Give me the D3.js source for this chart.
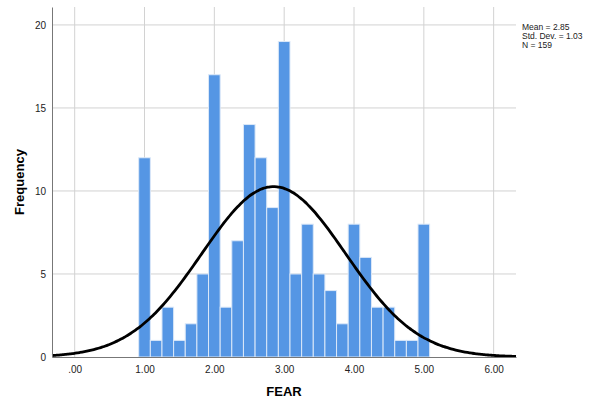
<!DOCTYPE html>
<html>
<head>
<meta charset="utf-8">
<script src="https://cdn.jsdelivr.net/npm/d3@7"></script>
<style>
  body { margin: 0; background: #fff; }
  svg { font-family: "Liberation Sans", Arial, sans-serif; }
</style>
</head>
<body>
<script>
// histogram of FEAR, bins of 1/6 centred on 1.00 .. 5.00
var binCenters = d3.range(25).map(function (i) { return 1 + i / 6; });
var counts = [12, 1, 3, 1, 2, 5, 17, 3, 7, 14, 12, 9, 19, 5, 8, 5, 4, 2, 8, 6, 3, 3, 1, 1, 8];
var xTicks = [0, 1, 2, 3, 4, 5, 6];
var yTicks = [0, 5, 10, 15, 20];
var mean = 2.85, sd = 1.03, n = 159, binWidth = 1 / 6;
var statLines = ["Mean = 2.85", "Std. Dev. = 1.03", "N = 159"];

var width = 592, height = 403;
var margin = { left: 52, top: 7, right: 76, bottom: 46 };

var svg = d3.select("body").append("svg")
  .attr("width", width)
  .attr("height", height);

var x = d3.scaleLinear().domain([-0.325, 6.32]).range([margin.left, width - margin.right]);
var y = d3.scaleLinear().domain([0, 21.08]).range([height - margin.bottom, margin.top]);

// grid
svg.append("g").selectAll("line")
  .data(xTicks)
  .enter().append("line")
  .attr("x1", d => x(d)).attr("x2", d => x(d))
  .attr("y1", y.range()[1]).attr("y2", y.range()[0])
  .attr("stroke", "#d2d2d2").attr("stroke-width", 1);

svg.append("g").selectAll("line")
  .data(yTicks.filter(d => d > 0))
  .enter().append("line")
  .attr("x1", x.range()[0]).attr("x2", x.range()[1])
  .attr("y1", d => y(d)).attr("y2", d => y(d))
  .attr("stroke", "#d2d2d2").attr("stroke-width", 1);

// bars
svg.append("g").selectAll("rect")
  .data(counts)
  .enter().append("rect")
  .attr("x", (d, i) => x(binCenters[i] - binWidth / 2))
  .attr("width", (d, i) => x(binCenters[i] + binWidth / 2) - x(binCenters[i] - binWidth / 2))
  .attr("y", d => y(d))
  .attr("height", d => y(0) - y(d))
  .attr("fill", "#5596e4")
  .attr("stroke", "#dbe8f8")
  .attr("stroke-width", 1);

// normal curve
var curve = d3.range(0, 201).map(function (i) {
  var v = x.domain()[0] + (x.domain()[1] - x.domain()[0]) * i / 200;
  var f = n * binWidth * Math.exp(-0.5 * Math.pow((v - mean) / sd, 2)) / (sd * Math.sqrt(2 * Math.PI));
  return [v, f];
});
svg.append("path")
  .datum(curve)
  .attr("fill", "none")
  .attr("stroke", "#000")
  .attr("stroke-width", 2.8)
  .attr("d", d3.line().x(d => x(d[0])).y(d => y(d[1])).curve(d3.curveBasis));

// axes
var xAxis = d3.axisBottom(x).tickValues(xTicks).tickSize(0).tickPadding(9)
  .tickFormat(d => d === 0 ? ".00" : d3.format(".2f")(d));
svg.append("g")
  .attr("transform", "translate(0," + y(0) + ")")
  .call(xAxis)
  .call(g => g.select(".domain").attr("stroke", "#777"))
  .call(g => g.selectAll("text").attr("font-size", 10).attr("fill", "#222"));

var yAxis = d3.axisLeft(y).tickValues(yTicks).tickSize(0).tickPadding(6);
svg.append("g")
  .attr("transform", "translate(" + x.range()[0] + ",0)")
  .call(yAxis)
  .call(g => g.select(".domain").attr("stroke", "#777"))
  .call(g => g.selectAll("text").attr("font-size", 10).attr("fill", "#222"));

// titles
svg.append("text")
  .attr("x", (x(-0.325) + x(6.32)) / 2)
  .attr("y", 396)
  .attr("text-anchor", "middle")
  .attr("font-size", 13)
  .attr("font-weight", "bold")
  .text("FEAR");

svg.append("text")
  .attr("transform", "translate(24," + ((y(0) + y(21.08)) / 2) + ") rotate(-90)")
  .attr("text-anchor", "middle")
  .attr("font-size", 13)
  .attr("font-weight", "bold")
  .text("Frequency");

// stats box
svg.append("g").selectAll("text")
  .data(statLines)
  .enter().append("text")
  .attr("x", 522)
  .attr("y", (d, i) => 30 + i * 8.8)
  .attr("font-size", 8.5)
  .attr("fill", "#222")
  .text(d => d);
</script>
</body>
</html>
